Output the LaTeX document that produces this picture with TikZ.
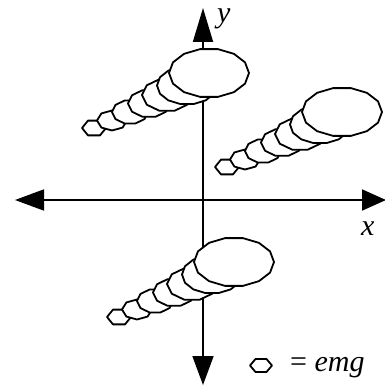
\documentclass[tikz,border=0pt]{standalone}
\usepackage{fontspec}
\setmainfont{Liberation Serif}
\usetikzlibrary{arrows.meta}
\newcommand\pell[5]{%
  \filldraw[blob] plot[samples=#5, domain=0:360] ({#1+#3*cos(\x)},{#2+#4*sin(\x)}) -- cycle;}
\newcommand\comet[2]{%
  \begin{scope}[shift={(#1,#2)}]
    \pell{-115}{55}{12}{8.5}{7}
    \pell{-97}{47.5}{15}{10}{9}
    \pell{-79}{39}{18}{12}{11}
    \pell{-60}{30.5}{21}{14}{11}
    \pell{-42}{22}{25}{16.5}{11}
    \pell{-22}{12.5}{30}{19}{15}
    \pell{0}{0}{40}{24.5}{15}
  \end{scope}}
\begin{document}
\begin{tikzpicture}[x=1pt,y=-1pt,
  blob/.style={draw=black,fill=white,line width=1.8pt,line join=round},
  axis/.style={line width=1.8pt},
  lab/.style={inner sep=0pt,font=\fontsize{30}{31}\selectfont\itshape}]
\useasboundingbox (0,0) rectangle (385,385);
\fill[white] (0,0) rectangle (385,385);
\coordinate (xl) at (15,200);
\coordinate (xr) at (386,200);
\coordinate (yt) at (203,8);
\coordinate (yb) at (203,385);
\draw[axis,{Triangle[length=29pt,width=21pt]}-{Triangle[length=24pt,width=21pt]}] (xl) -- (xr);
\draw[axis,{Triangle[length=29pt,width=21pt]}-{Triangle[length=34pt,width=20pt]}] (yb) -- (yt);
\comet{209}{73}
\comet{342}{112}
\comet{234}{262}
\pell{261}{365.5}{11}{7.5}{7}
\node[lab,anchor=base west] (ylab) at (217,23) {y};
\node[lab,anchor=base west] (xlab) at (361,235) {x};
\node[lab,anchor=base west] (legend) at (290,371) {\upshape= \itshape emg};
\end{tikzpicture}
\end{document}
